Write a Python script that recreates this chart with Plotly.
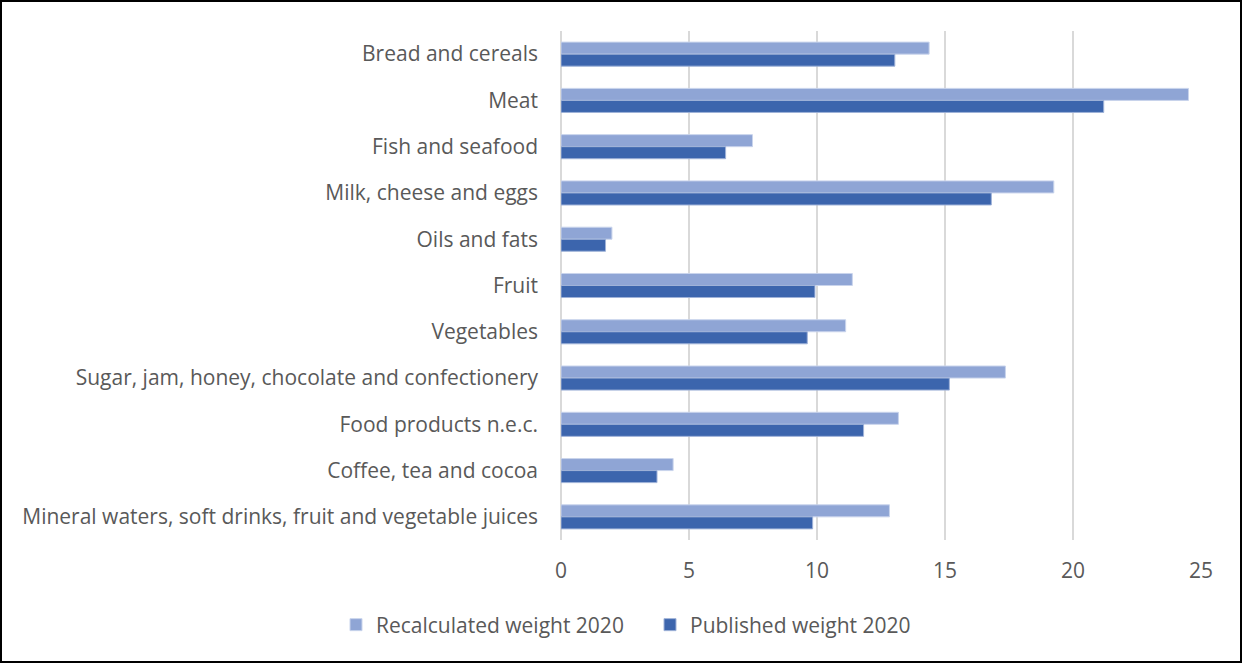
import plotly.graph_objects as go

categories = [
    "Bread and cereals",
    "Meat",
    "Fish and seafood",
    "Milk, cheese and eggs",
    "Oils and fats",
    "Fruit",
    "Vegetables",
    "Sugar, jam, honey, chocolate and confectionery",
    "Food products n.e.c.",
    "Coffee, tea and cocoa",
    "Mineral waters, soft drinks, fruit and vegetable juices",
]
recalculated_2020 = [14.38, 24.51, 7.48, 19.25, 1.99, 11.38, 11.12, 17.36, 13.18, 4.38, 12.83]
published_2020 = [13.04, 21.20, 6.43, 16.81, 1.74, 9.92, 9.62, 15.17, 11.82, 3.75, 9.83]

W, H = 1243, 664
L, R, T, B = 561, 42, 31, 124
pw, ph = W - L - R, H - T - B

font_family = "'Open Sans', sans-serif"
text_color = "#595959"
fsize = 21

fig = go.Figure()
fig.add_trace(go.Bar(
    y=categories, x=recalculated_2020, orientation="h",
    name="Recalculated weight 2020",
    marker=dict(color="#8FA5D5", line=dict(color="#C9D4EC", width=1)),
))
fig.add_trace(go.Bar(
    y=categories, x=published_2020, orientation="h",
    name="Published weight 2020",
    marker=dict(color="#3C65AD", line=dict(color="#9FB2D8", width=1)),
))

# outer frame around the whole chart
fig.add_shape(
    type="rect", xref="paper", yref="paper",
    x0=(1 - L) / pw, x1=(W - 2 - L) / pw,
    y0=(T + ph - (H - 2)) / ph, y1=(T + ph - 1) / ph,
    line=dict(color="black", width=2), fillcolor="rgba(0,0,0,0)", layer="above",
)

fig.update_layout(
    width=W, height=H,
    margin=dict(l=L, r=R, t=T, b=B, pad=0),
    paper_bgcolor="white", plot_bgcolor="white",
    barmode="group", bargap=0.48, bargroupgap=0,
    font=dict(family=font_family, size=fsize, color=text_color),
    showlegend=True,
    legend=dict(
        orientation="h", x=(336 - L) / pw, xanchor="left",
        y=(T + ph - 625) / ph, yanchor="middle",
        font=dict(size=fsize, color=text_color),
        itemwidth=30, tracegroupgap=0,
        entrywidth=269, entrywidthmode="pixels",
    ),
    xaxis=dict(
        range=[0, 25], tickvals=[0, 5, 10, 15, 20, 25],
        showgrid=True, gridcolor="#D9D9D9", gridwidth=1.5,
        zeroline=True, zerolinecolor="#D9D9D9", zerolinewidth=1.5,
        showline=False, ticks="",
        ticklabelstandoff=16, fixedrange=True,
    ),
    yaxis=dict(
        autorange="reversed", showgrid=False, zeroline=False,
        showline=False, ticks="", ticklabelstandoff=22,
    ),
)

fig.write_html("out.html")
